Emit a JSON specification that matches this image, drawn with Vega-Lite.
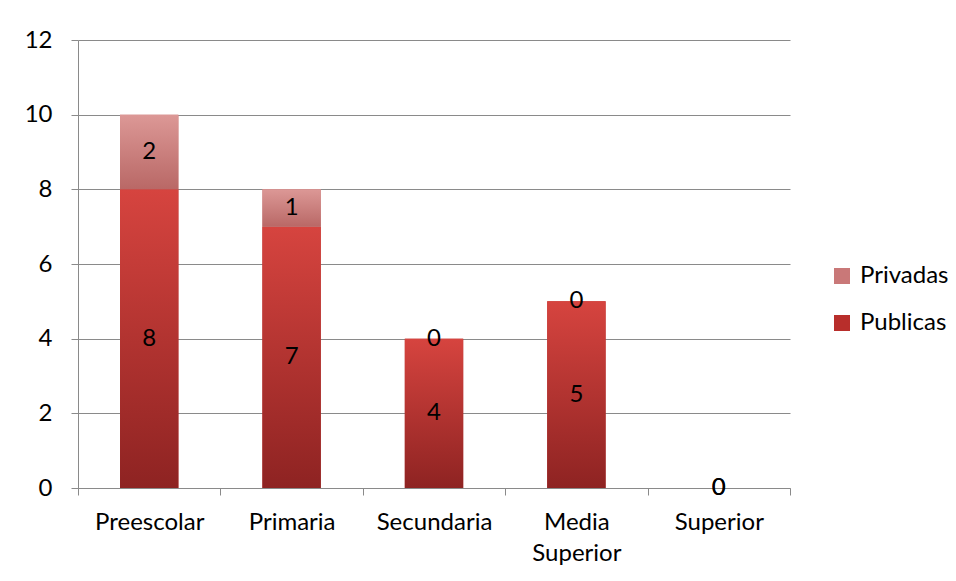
{
  "$schema": "https://vega.github.io/schema/vega-lite/v6.json",
  "width": 712,
  "height": 448,
  "autosize": "none",
  "padding": {"left": 78, "top": 40, "right": 166, "bottom": 93},
  "background": "white",
  "config": {"view": {"stroke": null}, "font": "Lato"},
  "data": {
    "values": [
      {"cat": "Preescolar", "tipo": "Publicas", "value": 8, "order": 1},
      {"cat": "Preescolar", "tipo": "Privadas", "value": 2, "order": 2},
      {"cat": "Primaria", "tipo": "Publicas", "value": 7, "order": 1},
      {"cat": "Primaria", "tipo": "Privadas", "value": 1, "order": 2},
      {"cat": "Secundaria", "tipo": "Publicas", "value": 4, "order": 1},
      {"cat": "Secundaria", "tipo": "Privadas", "value": 0, "order": 2},
      {"cat": "Media Superior", "tipo": "Publicas", "value": 5, "order": 1},
      {"cat": "Media Superior", "tipo": "Privadas", "value": 0, "order": 2},
      {"cat": "Superior", "tipo": "Publicas", "value": 0, "order": 1},
      {"cat": "Superior", "tipo": "Privadas", "value": 0, "order": 2}
    ]
  },
  "transform": [
    {"stack": "value", "groupby": ["cat"], "sort": [{"field": "order"}], "as": ["v0", "v1"]},
    {"calculate": "(datum.v0 + datum.v1) / 2", "as": "mid"}
  ],
  "encoding": {
    "x": {
      "field": "cat",
      "type": "nominal",
      "sort": ["Preescolar", "Primaria", "Secundaria", "Media Superior", "Superior"],
      "scale": {"paddingInner": 0, "paddingOuter": 0},
      "axis": {
        "title": null,
        "labelAngle": 0,
        "tickBand": "extent",
        "domainColor": "#8a8a8a",
        "tickColor": "#8a8a8a",
        "tickSize": 7,
        "labelFontSize": 24,
        "labelColor": "#000000",
        "labelPadding": 15,
        "labelLineHeight": 31,
        "labelExpr": "datum.value == 'Media Superior' ? ['Media', 'Superior'] : datum.value",
        "grid": false
      }
    }
  },
  "layer": [
    {
      "mark": {"type": "bar", "width": {"band": 0.41}},
      "encoding": {
        "y": {
          "field": "v1",
          "type": "quantitative",
          "scale": {"domain": [0, 12], "nice": false},
          "axis": {
            "title": null,
            "values": [0, 2, 4, 6, 8, 10, 12],
            "grid": true,
            "gridColor": "#8a8a8a",
            "domainColor": "#8a8a8a",
            "tickColor": "#8a8a8a",
            "tickSize": 7,
            "labelFontSize": 24,
            "labelColor": "#000000",
            "labelPadding": 19
          }
        },
        "y2": {"field": "v0"},
        "color": {
          "field": "tipo",
          "type": "nominal",
          "scale": {"domain": ["Privadas", "Publicas"], "range": ["#c97878", "#b82e2b"]},
          "legend": {
            "title": null,
            "orient": "none",
            "legendX": 752,
            "legendY": 224,
            "padding": 0,
            "symbolType": "square",
            "symbolSize": 256,
            "symbolStrokeWidth": 0,
            "labelFontSize": 24,
            "labelColor": "#000000",
            "labelOffset": 6,
            "rowPadding": 23
          }
        }
      }
    },
    {
      "transform": [{"filter": "datum.tipo == 'Publicas'"}],
      "mark": {
        "type": "bar",
        "width": {"band": 0.41},
        "fill": {
          "gradient": "linear", "x1": 0, "y1": 0, "x2": 0, "y2": 1,
          "stops": [{"offset": 0, "color": "#d6443f"}, {"offset": 1, "color": "#8e2322"}]
        }
      },
      "encoding": {
        "y": {"field": "v1", "type": "quantitative"},
        "y2": {"field": "v0"}
      }
    },
    {
      "transform": [{"filter": "datum.tipo == 'Privadas'"}],
      "mark": {
        "type": "bar",
        "width": {"band": 0.41},
        "fill": {
          "gradient": "linear", "x1": 0, "y1": 0, "x2": 0, "y2": 1,
          "stops": [{"offset": 0, "color": "#dc9896"}, {"offset": 1, "color": "#b96866"}]
        }
      },
      "encoding": {
        "y": {"field": "v1", "type": "quantitative"},
        "y2": {"field": "v0"}
      }
    },
    {
      "mark": {"type": "text", "fontSize": 24, "color": "#000000", "baseline": "middle", "align": "center"},
      "encoding": {
        "y": {"field": "mid", "type": "quantitative"},
        "text": {"field": "value", "type": "quantitative"}
      }
    }
  ]
}
